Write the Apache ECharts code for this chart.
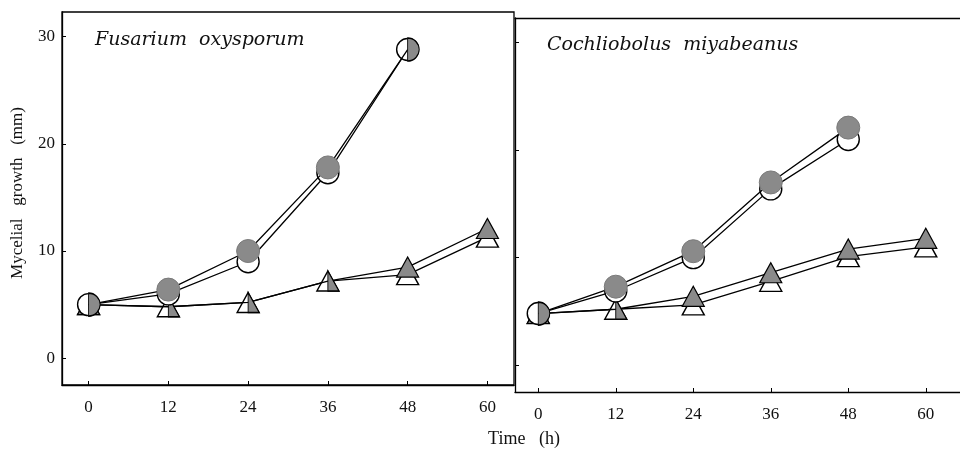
<!DOCTYPE html>
<html><head><meta charset="utf-8">
<script src="https://cdn.jsdelivr.net/npm/echarts@6/dist/echarts.min.js"></script>
<style>html,body{margin:0;padding:0;background:#fff}#c{width:960px;height:452px}</style>
</head><body><div id="c"></div>
<script>
// ---- data ----
const timesCircle = [0, 12, 24, 36, 48];
const timesTri = [0, 12, 24, 36, 48, 60];
const xTicks = [0, 12, 24, 36, 48, 60];
const yTicks = [0, 10, 20, 30];
// Fusarium oxysporum
const fusOpenCircle   = [5.0, 6.0, 9.0, 17.3, 28.8];
const fusFilledCircle = [5.0, 6.4, 10.0, 17.8, 28.8];
const fusOpenTri      = [5.0, 4.8, 5.2, 7.2, 7.8, 11.3];
const fusFilledTri    = [5.0, 4.8, 5.2, 7.2, 8.5, 12.1];
// Cochliobolus miyabeanus
const cocOpenCircle   = [4.8, 6.9, 10.0, 16.4, 21.0];
const cocFilledCircle = [4.8, 7.3, 10.6, 17.0, 22.1];
const cocOpenTri      = [4.8, 5.2, 5.6, 7.8, 10.1, 11.0];
const cocFilledTri    = [4.8, 5.2, 6.4, 8.6, 10.8, 11.8];
const panelTitles = ['Fusarium  oxysporum', 'Cochliobolus  miyabeanus'];
const yName = 'Mycelial   growth   (mm)';
const xName = 'Time   (h)';

// ---- styles ----
const GREY = '#8a8a8a';
const HALF_CIRCLE = 'path://M0,0 A10,10 0 0 1 0,20 Z';
const HALF_TRI = 'path://M0,0 L10,20 L0,20 Z';
const fusHalfCircle = [0, 4], fusHalfTri = [1, 2, 3];
const cocHalfCircle = [0], cocHalfTri = [1];

function pts(xs, ys) { return ys.map((v, i) => [xs[i], v]); }
function withHalf(data, halfIdx, kind) {
  return data.map((p, i) => {
    if (halfIdx.indexOf(i) < 0) return p;
    if (kind === 'circle') return { value: p, symbol: HALF_CIRCLE, symbolSize: [11.5, 23], symbolOffset: [5.75, 0], itemStyle: { color: GREY, borderColor: '#000', borderWidth: 1.2 } };
    return { value: p, symbol: HALF_TRI, symbolSize: [11, 20], symbolOffset: [5.5, 0], itemStyle: { color: GREY, borderColor: '#000', borderWidth: 1.2 } };
  });
}
const lineStyle = { color: '#000', width: 1.3 };
function panelSeries(idx, oc, fc, ot, ft, hc, ht) {
  return [
    { type: 'line', xAxisIndex: idx * 2, yAxisIndex: idx, data: pts(timesTri, ot), symbol: 'triangle', symbolSize: [22, 20], lineStyle, itemStyle: { color: '#fff', borderColor: '#000', borderWidth: 1.4 }, z: 2 },
    { type: 'line', xAxisIndex: idx * 2, yAxisIndex: idx, data: withHalf(pts(timesTri, ft), ht, 'tri'), symbol: 'triangle', symbolSize: [22, 20], lineStyle, itemStyle: { color: GREY, borderColor: '#000', borderWidth: 1.2 }, z: 3 },
    { type: 'line', xAxisIndex: idx * 2, yAxisIndex: idx, data: pts(timesCircle, oc), symbol: 'circle', symbolSize: 22, lineStyle, itemStyle: { color: '#fff', borderColor: '#000', borderWidth: 1.4 }, z: 4 },
    { type: 'line', xAxisIndex: idx * 2, yAxisIndex: idx, data: withHalf(pts(timesCircle, fc), hc, 'circle'), symbol: 'circle', symbolSize: 23, lineStyle, itemStyle: { color: GREY, borderColor: '#7a7a7a', borderWidth: 1 }, z: 5 }
  ];
}
const labelFont = { fontFamily: 'Liberation Serif', fontSize: 17, color: '#111' };
const axLine = { show: true, onZero: false, lineStyle: { color: '#000', width: 1.3 } };
function xAxis(gi, min, max) {
  return { type: 'value', gridIndex: gi, min, max,
    splitLine: { show: false }, axisLine: axLine,
    axisTick: { show: true, inside: true, length: 4, customValues: xTicks, lineStyle: { color: '#000' } },
    axisLabel: Object.assign({ customValues: xTicks, margin: 14 }, labelFont) };
}
function topAxis(gi, min, max) {
  return { type: 'value', gridIndex: gi, position: 'top', min, max,
    splitLine: { show: false }, axisLine: axLine, axisTick: { show: false }, axisLabel: { show: false } };
}
function yAxis(gi) {
  return { type: 'value', gridIndex: gi, min: -2.5, max: 32.3,
    splitLine: { show: false }, axisLine: axLine,
    axisTick: { show: true, inside: true, length: 4, customValues: yTicks, lineStyle: { color: '#000' } },
    axisLabel: Object.assign({ show: gi === 0, customValues: yTicks, margin: 7 }, labelFont) };
}
const chart = echarts.init(document.getElementById('c'), null, { renderer: 'canvas' });
chart.setOption({
  animation: false,
  backgroundColor: '#fff',
  grid: [
    { left: 62, top: 12, width: 452, height: 373, show: true, borderColor: '#000', borderWidth: 1.3, backgroundColor: 'transparent' },
    { left: 515, top: 18, width: 455, height: 374, show: false }
  ],
  xAxis: [xAxis(0, -4, 64), xAxis(1, -3.6, 65.3), topAxis(1, -3.6, 65.3)],
  yAxis: [yAxis(0), yAxis(1)],
  series: [].concat(
    panelSeries(0, fusOpenCircle, fusFilledCircle, fusOpenTri, fusFilledTri, fusHalfCircle, fusHalfTri),
    panelSeries(1, cocOpenCircle, cocFilledCircle, cocOpenTri, cocFilledTri, cocHalfCircle, cocHalfTri)
  ),
  graphic: [
    { type: 'text', left: 95, top: 31, style: { text: panelTitles[0], font: 'italic 19px "DejaVu Serif"', fill: '#111' } },
    { type: 'text', left: 547, top: 36, style: { text: panelTitles[1], font: 'italic 19px "DejaVu Serif"', fill: '#111' } },
    { type: 'text', x: 524, y: 439, style: { text: xName, font: '18px "Liberation Serif"', fill: '#111', align: 'center', verticalAlign: 'middle' } },
    { type: 'text', x: 18, y: 193, rotation: Math.PI / 2, style: { text: yName, font: '17px "Liberation Serif"', fill: '#111', align: 'center', verticalAlign: 'middle' } }
  ]
});
</script></body></html>
